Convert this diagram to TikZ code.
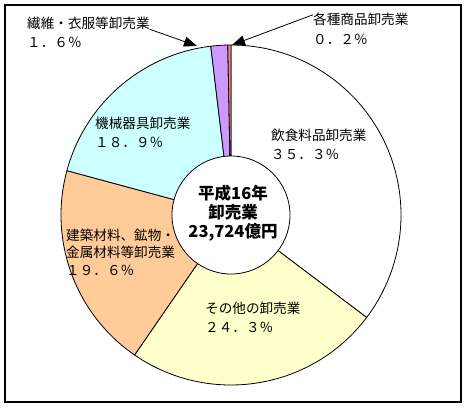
\documentclass[tikz,border=0pt]{standalone}
\usepackage{fontspec}
\newfontfamily\jp{Noto Sans CJK JP}
\usetikzlibrary{arrows.meta}
\definecolor{cFood}{HTML}{FFFFFF}
\definecolor{cOther}{HTML}{FFFFCC}
\definecolor{cBuild}{HTML}{FFCC99}
\definecolor{cMach}{HTML}{CCFFFF}
\definecolor{cFib}{HTML}{CC99FF}
\definecolor{cVar}{HTML}{FF8080}
\tikzset{
  wedge/.style={draw=black, line width=0.8bp, line join=round},
  lbl/.style={font=\jp\fontsize{13.6bp}{19.5bp}\selectfont, anchor=base west, inner sep=0pt, align=left},
  ctr/.style={font=\jp\bfseries\fontsize{16.5bp}{19bp}\selectfont, inner sep=0pt, align=center},
  lead/.style={draw=black, line width=0.8bp, -{Triangle[length=13bp,width=10bp]}}
}
\newcommand{\pieWedge}[3]{%
  \filldraw[wedge, fill=#3] (231,193) -- ++(#1:170) arc[start angle=#1, end angle=#2, radius=170] -- cycle;}
\begin{document}
\begin{tikzpicture}[x=1bp,y=1bp]
\useasboundingbox (0,0) rectangle (467,408);
\fill[white] (0,0) rectangle (467,408);
\draw[line width=1.2bp] (5,6) rectangle (461,403);
\coordinate (c) at (231,193);
% wedges (clockwise from top)
\pieWedge{90}{-37.08}{cFood}
\pieWedge{-37.08}{-124.56}{cOther}
\pieWedge{-124.56}{-195.12}{cBuild}
\pieWedge{-195.12}{-263.16}{cMach}
\pieWedge{-263.16}{-268.92}{cFib}
\pieWedge{-268.92}{-270}{cVar}
% centre hole
\filldraw[fill=white, draw=black, line width=0.8bp] (c) circle[radius=59];
\node[ctr] (title) at (233,195) {平成16年\\卸売業\\23,724億円};
% labels (anchor = baseline of last line)
\node[lbl] (food) at (271,248.5) {飲食料品卸売業\\３５．３％};
\node[lbl] (other) at (205,75.5) {その他の卸売業\\２４．３％};
\node[lbl, font=\jp\fontsize{13.6bp}{17.5bp}\selectfont] (build) at (66,133) {建築材料、鉱物・\\金属材料等卸売業\\１９．６％};
\node[lbl] (mach) at (95,260.5) {機械器具卸売業\\１８．９％};
\node[lbl] (fib) at (27,360.5) {繊維・衣服等卸売業\\１．６％};
\node[lbl] (var) at (313,364) {各種商品卸売業\\０．２％};
% leader lines
\coordinate (fibtip) at (197,362);
\coordinate (vartip) at (232,363);
\draw[lead] ([yshift=-13bp]fib.north east) -- (fibtip);
\draw[lead] ([yshift=-2bp]var.north west) -- (vartip);
\end{tikzpicture}
\end{document}
